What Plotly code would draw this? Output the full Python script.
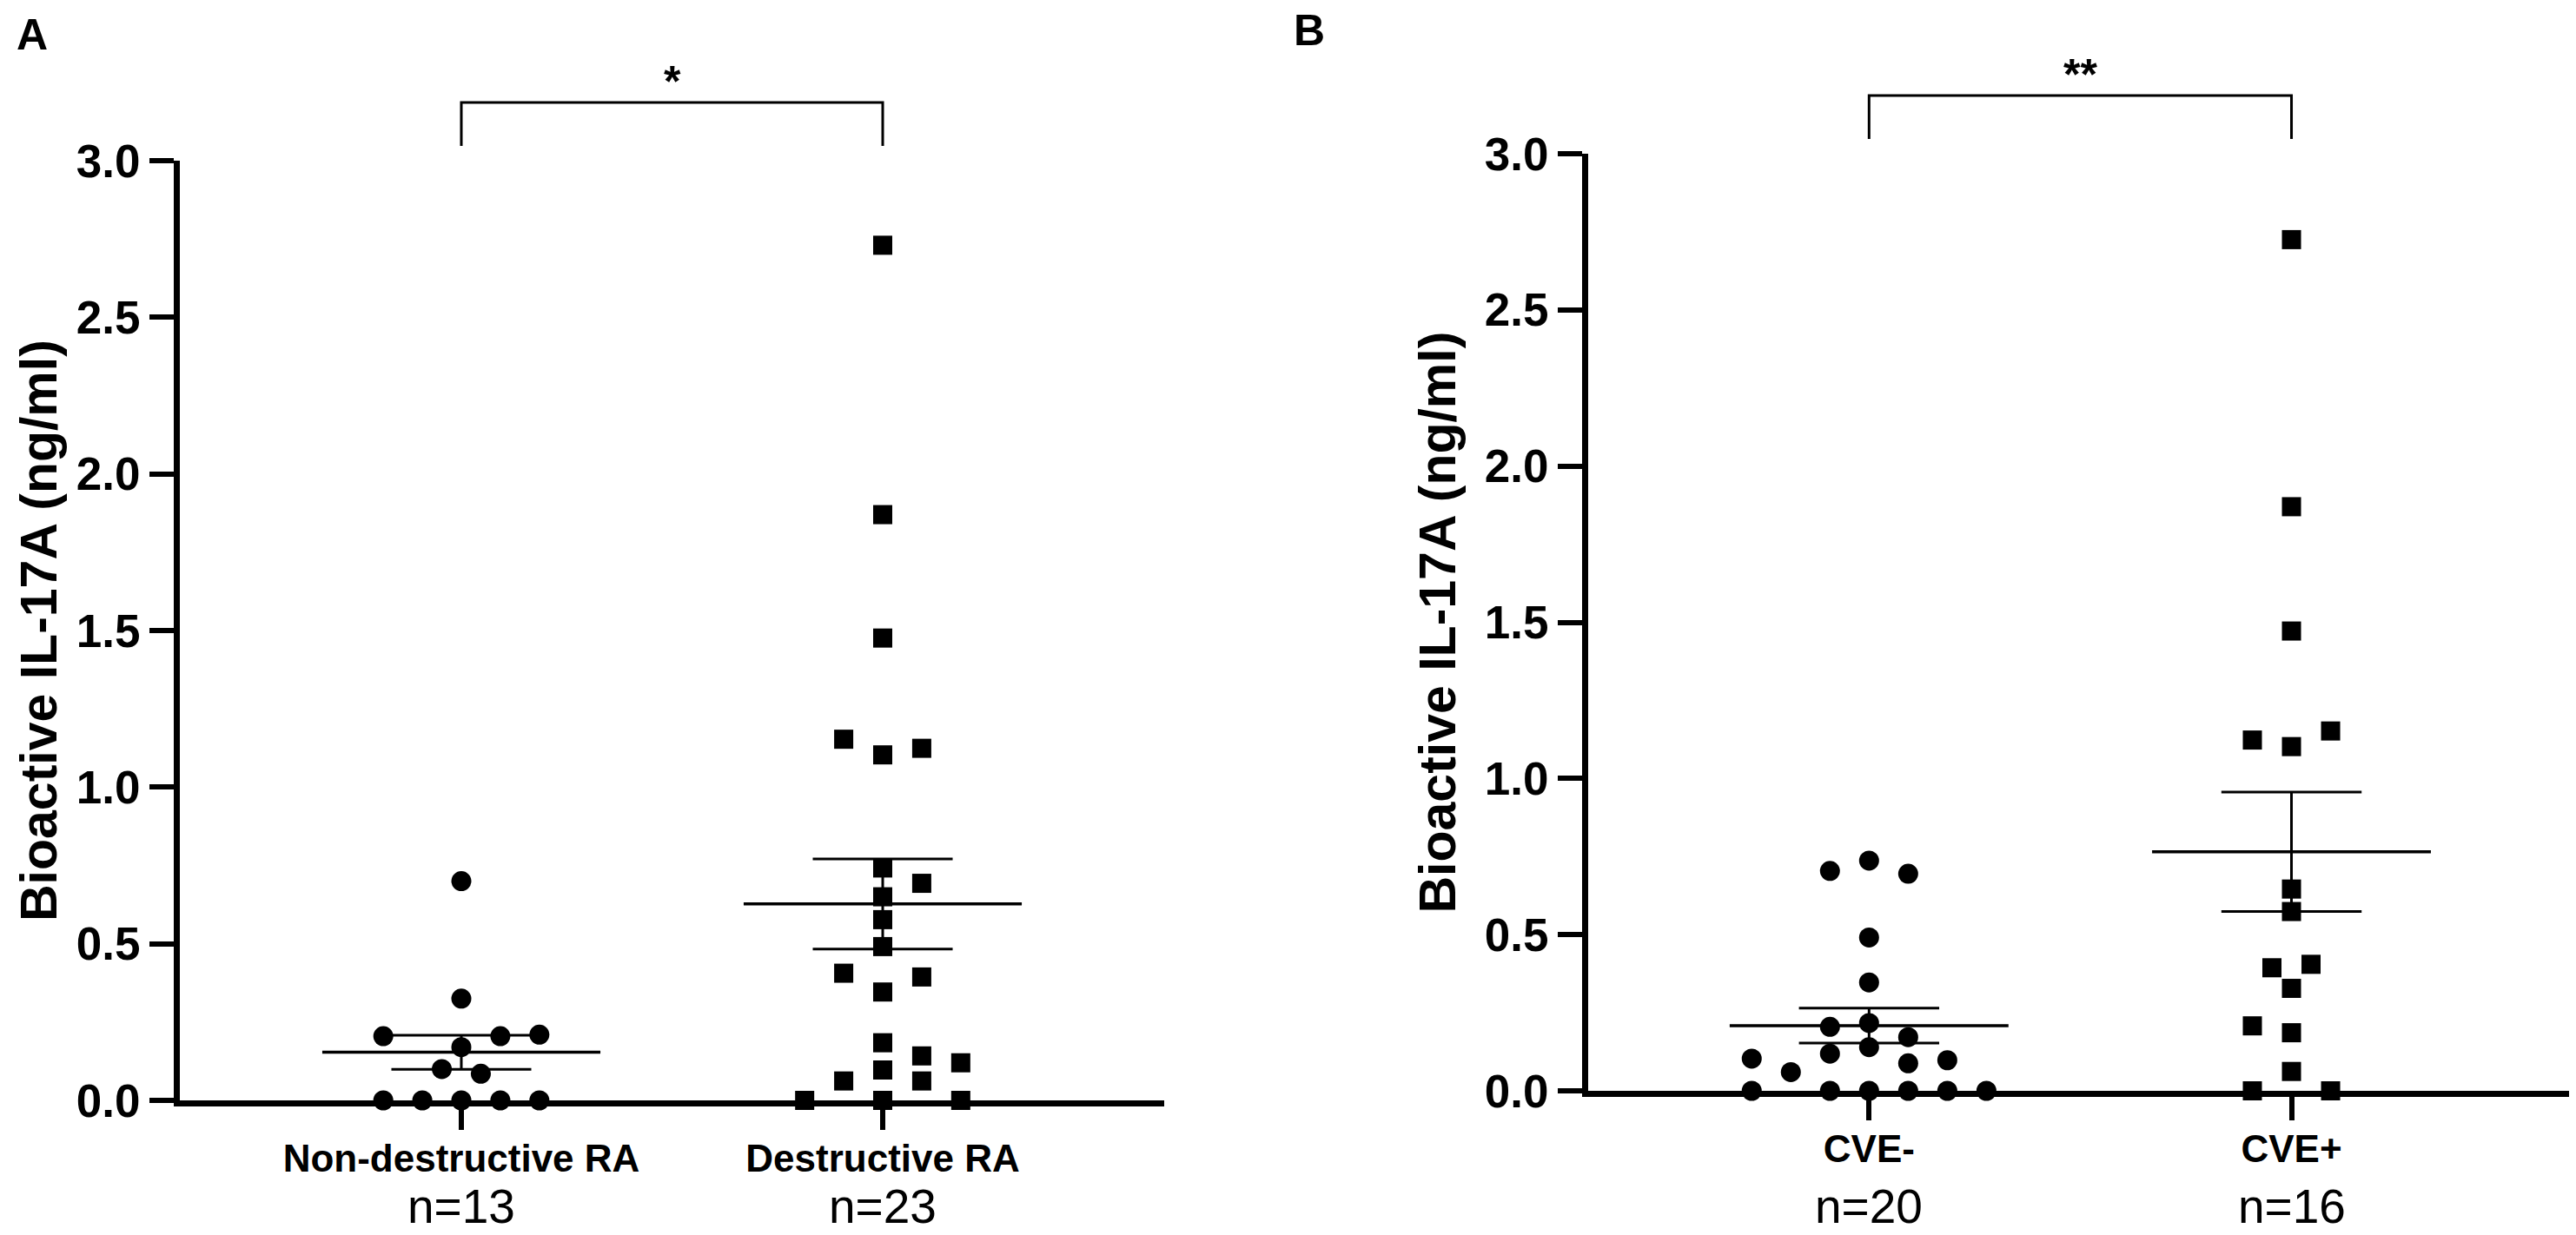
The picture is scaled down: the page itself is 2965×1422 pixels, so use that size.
import numpy as np
import plotly.graph_objects as go

# Panel A - joint destruction
groups_a = ["Non-destructive RA", "Destructive RA"]
counts_a = ["n=13", "n=23"]
nondestructive = [0.70, 0.325, 0.205, 0.205, 0.21, 0.17, 0.10, 0.085,
                  0, 0, 0, 0, 0]
destructive = [2.73, 1.87, 1.476, 1.153, 1.103, 1.124, 0.742, 0.693, 0.650,
               0.577, 0.491, 0.406, 0.394, 0.346, 0.184, 0.142, 0.120, 0.097,
               0.062, 0.062, 0, 0, 0]

# Panel B - cardiovascular events
groups_b = ["CVE-", "CVE+"]
counts_b = ["n=20", "n=16"]
cve_neg = [0.704, 0.737, 0.695, 0.491, 0.347, 0.205, 0.217, 0.172, 0.140,
           0.119, 0.103, 0.088, 0.098, 0.060, 0, 0, 0, 0, 0, 0]
cve_pos = [2.725, 1.870, 1.472, 1.123, 1.102, 1.152, 0.646, 0.574, 0.394,
           0.405, 0.328, 0.208, 0.186, 0.062, 0, 0]

y_ticks = [0, 0.5, 1.0, 1.5, 2.0, 2.5, 3.0]
y_title = "Bioactive IL-17A (ng/ml)"
stars = ["*", "**"]

# beeswarm slot of each point (in marker steps), same order as the values
nondestructive_slot = [0, 0, -2, 1, 2, 0, -0.5, 0.5, -2, -1, 0, 1, 2]
destructive_slot = [0, 0, 0, -1, 0, 1, 0, 1, 0, 0, 0, -1, 1, 0, 0, 1, 2, 0,
                    -1, 1, -2, 0, 2]
cve_neg_slot = [-1, 0, 1, 0, 0, -1, 0, 1, 0, -1, -3, 1, 2, -2, -3, -1, 0, 1,
                2, 3]
cve_pos_slot = [0, 0, 0, -1, 0, 1, 0, 0, -0.5, 0.5, 0, -1, 0, 0, -1, 1]

STEP = 0.0926
MEAN_HW = 0.33
SEM_HW = 0.166
FONT = "Liberation Sans, Arial, sans-serif"

W, H = 2965, 1422
BODY = 8  # the html body margin shifts the figure by this much


def px_x(s):
    return (s - BODY) / W


def px_y(s):
    return 1 - (s - BODY) / H


fig = go.Figure()


def add_group(i, values, slots, symbol, size, xa, ya):
    # mean line, SEM whiskers, then the points on top
    v = np.array(values, dtype=float)
    m = v.mean()
    s = v.std(ddof=1) / np.sqrt(len(v))
    fig.add_trace(go.Scatter(
        x=[i - MEAN_HW, i + MEAN_HW], y=[m, m], mode="lines",
        line=dict(color="black", width=3.5), xaxis=xa, yaxis=ya,
        hoverinfo="skip"))
    fig.add_trace(go.Scatter(
        x=[i - SEM_HW, i + SEM_HW, None, i - SEM_HW, i + SEM_HW, None, i, i],
        y=[m + s, m + s, None, m - s, m - s, None, m - s, m + s],
        mode="lines", line=dict(color="black", width=3),
        xaxis=xa, yaxis=ya, hoverinfo="skip"))
    fig.add_trace(go.Scatter(
        x=[i + STEP * k for k in slots], y=values, mode="markers",
        marker=dict(symbol=symbol, size=size, color="black",
                    line=dict(width=0)),
        cliponaxis=False, xaxis=xa, yaxis=ya, hoverinfo="skip"))


add_group(0, nondestructive, nondestructive_slot, "circle", 23, "x", "y")
add_group(1, destructive, destructive_slot, "square", 22, "x", "y")
add_group(0, cve_neg, cve_neg_slot, "circle", 23, "x2", "y2")
add_group(1, cve_pos, cve_pos_slot, "square", 22, "x2", "y2")

xaxis_style = dict(
    tickvals=[0, 1], ticks="outside", ticklen=27, tickwidth=6,
    tickcolor="black", showline=True, linewidth=7, linecolor="black",
    showgrid=False, zeroline=False, fixedrange=True, automargin=False,
    tickfont=dict(family=FONT, size=44, color="black", weight="bold"),
    ticklabelstandoff=-5)
yaxis_style = dict(
    range=[0, 3.0], tickvals=y_ticks, tickformat=".1f", ticks="outside",
    ticklen=28, tickwidth=6, tickcolor="black", showline=True, linewidth=7,
    linecolor="black", showgrid=False, zeroline=False, fixedrange=True,
    automargin=False,
    tickfont=dict(family=FONT, size=53, color="black", weight="bold"))

dom_a_x = [px_x(207), px_x(1340)]
dom_a_y = [px_y(1267), px_y(185)]
dom_b_x = [px_x(1828), 1.0]
dom_b_y = [px_y(1256), px_y(177)]

fig.update_layout(
    width=W, height=H, margin=dict(l=0, r=0, t=0, b=0, pad=0),
    paper_bgcolor="white", plot_bgcolor="white", showlegend=False,
    xaxis=dict(xaxis_style, domain=dom_a_x, range=[-0.668, 1.668],
               ticktext=groups_a, anchor="y"),
    yaxis=dict(yaxis_style, domain=dom_a_y, anchor="x"),
    xaxis2=dict(xaxis_style, domain=dom_b_x, range=[-0.665, 1.69],
                ticktext=groups_b, anchor="y2"),
    yaxis2=dict(yaxis_style, domain=dom_b_y, anchor="x2"),
)

annotations = []
shapes = []
panels = [("x", counts_a, dom_a_y, "A", 37, 40, stars[0], 118, 168, 45),
          ("x2", counts_b, dom_b_y, "B", 1507, 35, stars[1], 110, 160, 1654)]
for xr, counts, dy, letter, lx, ly, star, top, bot, tx in panels:
    for i, c in enumerate(counts):
        annotations.append(dict(
            x=i, xref=xr, y=px_y(1389), yref="paper", text=c,
            showarrow=False, xanchor="center", yanchor="middle",
            font=dict(family=FONT, size=55, color="black")))
    annotations.append(dict(
        x=px_x(lx), y=px_y(ly), xref="paper", yref="paper", text=letter,
        showarrow=False, xanchor="center", yanchor="middle",
        font=dict(family=FONT, size=50, color="black", weight="bold")))
    annotations.append(dict(
        x=px_x(tx), y=(dy[0] + dy[1]) / 2, xref="paper", yref="paper",
        text=y_title, textangle=-90, showarrow=False, xanchor="center",
        yanchor="middle",
        font=dict(family=FONT, size=59, color="black", weight="bold")))
    annotations.append(dict(
        x=0.5, xref=xr, y=px_y(top - 24), yref="paper", text=star,
        showarrow=False, xanchor="center", yanchor="middle",
        font=dict(family=FONT, size=50, color="black", weight="bold")))
    y0 = px_y(bot)
    y1 = px_y(top)
    shapes.append(dict(
        type="path", xref=xr, yref="paper",
        path=f"M 0,{y0} L 0,{y1} L 1,{y1} L 1,{y0}",
        line=dict(color="black", width=3)))

fig.update_layout(annotations=annotations, shapes=shapes)

fig.write_html("out.html")
